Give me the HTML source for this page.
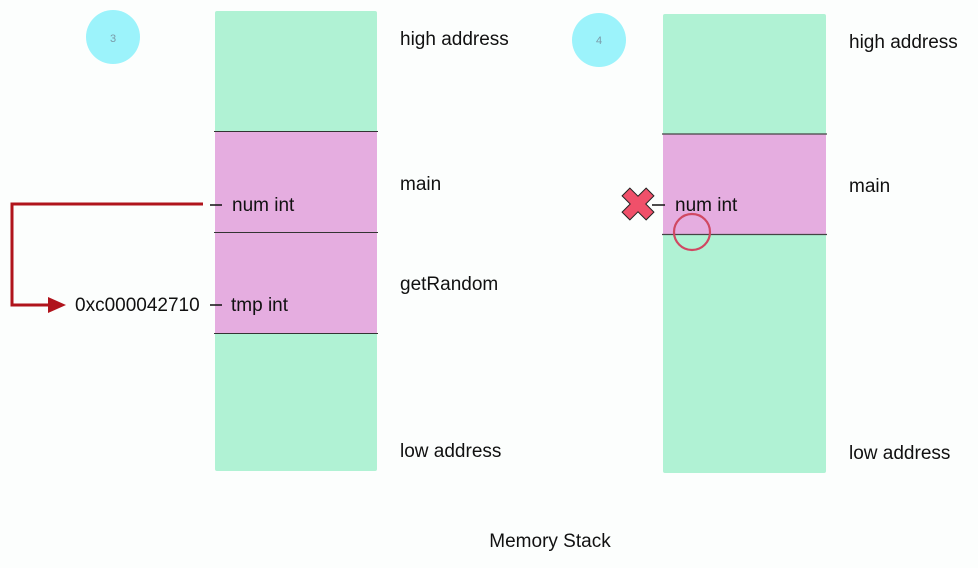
<!DOCTYPE html>
<html><head><style>
body{margin:0;background:#fcfefd;}
svg{display:block}
text{font-family:"Liberation Sans",sans-serif;font-size:19px;fill:#111;}
</style></head><body>
<svg width="978" height="568" viewBox="0 0 978 568">
<rect width="978" height="568" fill="#fcfefd"/>
<rect x="215" y="11" width="162" height="460" fill="#b0f2d4" rx="2"/>
<rect x="215" y="131" width="162" height="202" fill="#e5ade0"/>
<line x1="214" y1="131.5" x2="378" y2="131.5" stroke="#333" stroke-width="1"/>
<line x1="214" y1="232.5" x2="378" y2="232.5" stroke="#333" stroke-width="1"/>
<line x1="214" y1="333.5" x2="378" y2="333.5" stroke="#333" stroke-width="1"/>
<circle cx="113" cy="37" r="27" fill="#9cf3fb"/>
<text x="113" y="42" text-anchor="middle" style="font-size:11px;fill:#7a9aa8">3</text>
<text x="400" y="45">high address</text>
<text x="400" y="190">main</text>
<text x="400" y="290">getRandom</text>
<text x="400" y="457">low address</text>
<line x1="210" y1="205" x2="222" y2="205" stroke="#111" stroke-width="1.5"/>
<text x="232" y="211">num int</text>
<line x1="210" y1="305" x2="222" y2="305" stroke="#111" stroke-width="1.5"/>
<text x="231" y="311">tmp int</text>
<text x="75" y="311">0xc000042710</text>
<polyline points="203,204 12,204 12,305 50,305" fill="none" stroke="#b0141c" stroke-width="3"/>
<polygon points="48,297 66,305 48,313" fill="#b0141c"/>
<rect x="663" y="14" width="163" height="459" fill="#b0f2d4" rx="2"/>
<rect x="663" y="134" width="163" height="100" fill="#e5ade0"/>
<line x1="662" y1="134" x2="827" y2="134" stroke="#444" stroke-width="1.2"/>
<line x1="662" y1="234.5" x2="827" y2="234.5" stroke="#444" stroke-width="1.2"/>
<circle cx="599" cy="40" r="27" fill="#9cf3fb"/>
<text x="599" y="44" text-anchor="middle" style="font-size:11px;fill:#7a9aa8">4</text>
<text x="849" y="48">high address</text>
<text x="849" y="192">main</text>
<text x="849" y="459">low address</text>
<line x1="652" y1="205" x2="665" y2="205" stroke="#111" stroke-width="1.5"/>
<text x="675" y="211">num int</text>
<g transform="translate(638,204) rotate(45)">
<path d="M-5.5,-17 H5.5 V-5.5 H17 V5.5 H5.5 V17 H-5.5 V5.5 H-17 V-5.5 H-5.5 Z" fill="#f0506a" stroke="#222" stroke-width="1"/>
</g>
<circle cx="692" cy="232" r="18" fill="none" stroke="#d04862" stroke-width="2.2"/>
<text x="550" y="547" text-anchor="middle">Memory Stack</text>
</svg>
</body></html>
